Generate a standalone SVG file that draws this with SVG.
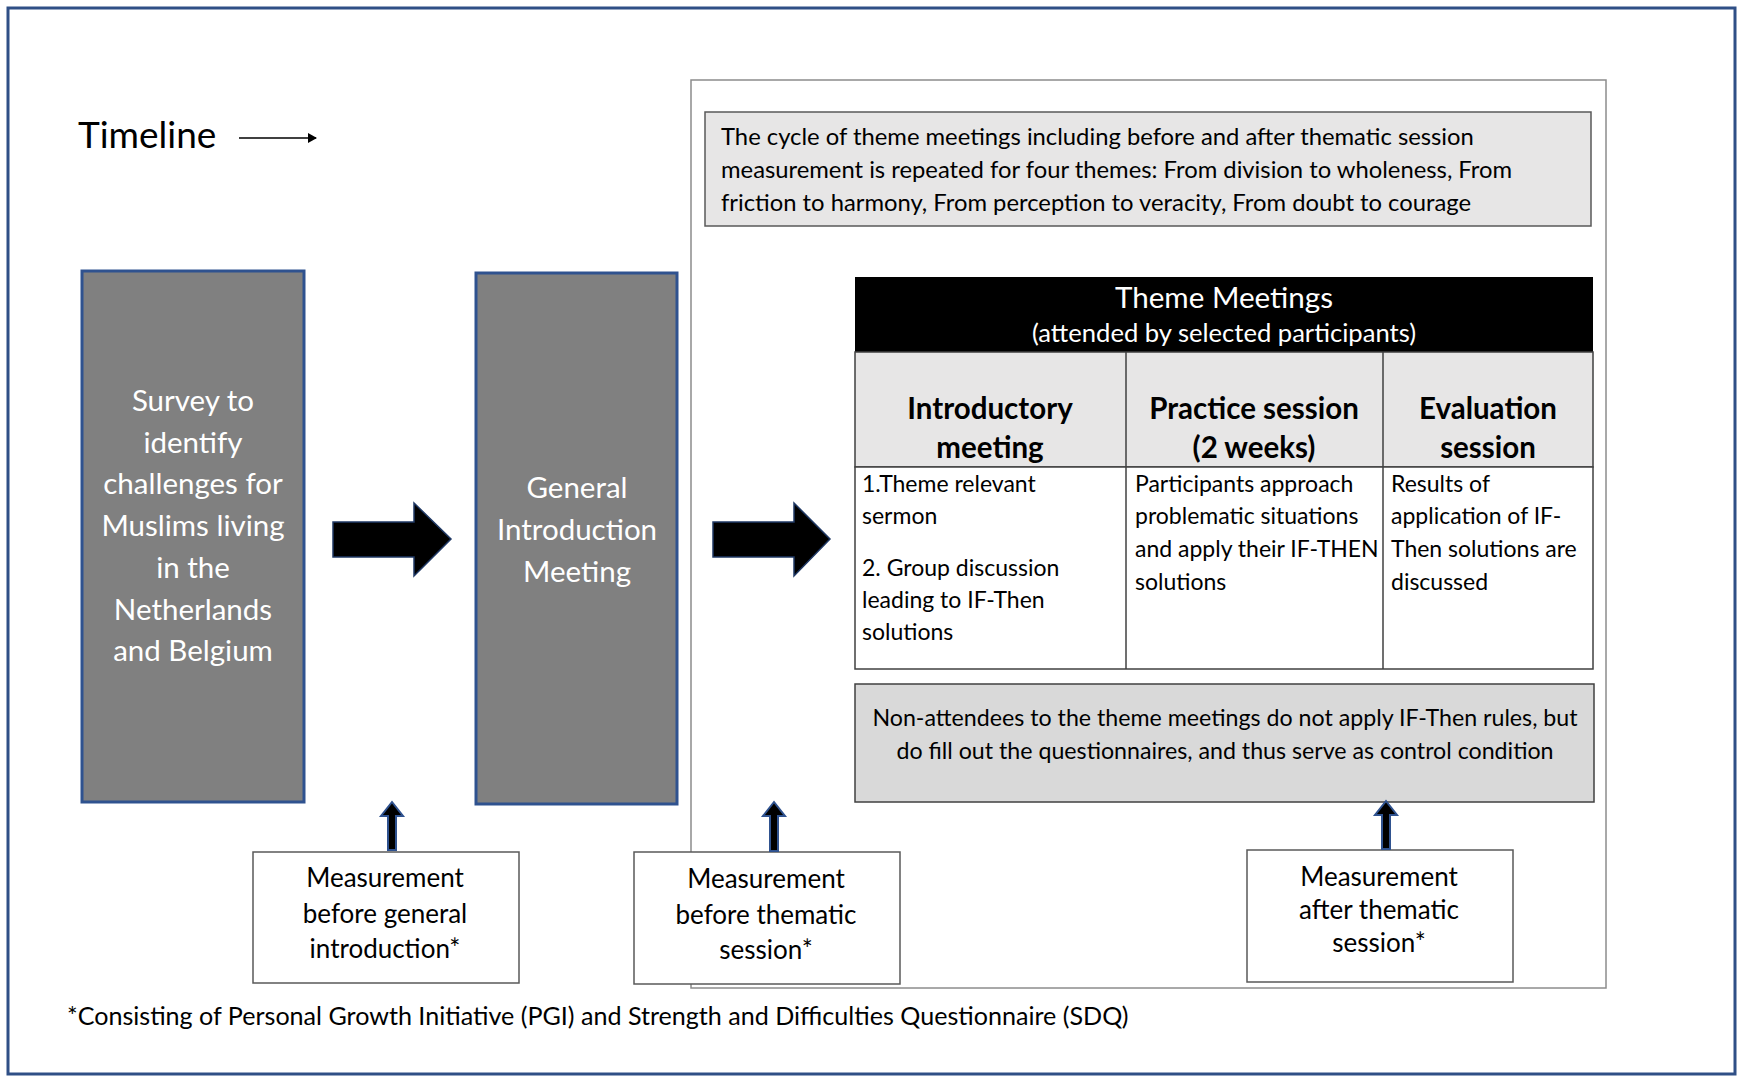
<svg xmlns="http://www.w3.org/2000/svg" width="1745" height="1082" viewBox="0 0 1745 1082">
<style>
text{font-family:Lato,"Open Sans","Liberation Sans",sans-serif;fill:#000}
.w{fill:#fff}
.c{text-anchor:middle}
.b{font-weight:bold}
.body{font-size:23px}
.big{font-size:29.5px}
.meas{font-size:26px}
.gbox{fill:#808080;stroke:#2F528F;stroke-width:3}
.mbox{fill:#fff;stroke:#595959;stroke-width:1.5}
.bigarrow{fill:#000;stroke:#1F3864;stroke-width:1.5}
.uparrow{fill:#000;stroke:#2F528F;stroke-width:2}
</style>
<defs>
<marker id="tl" markerWidth="10" markerHeight="10" refX="8" refY="5" orient="auto" markerUnits="userSpaceOnUse">
<path d="M0,0 L9,5 L0,10 Z" fill="#000"/>
</marker>
</defs>
<rect x="0" y="0" width="1745" height="1082" fill="#fff"/>
<rect x="8" y="8" width="1727" height="1066" fill="none" stroke="#2F4F86" stroke-width="3"/>

<g id="timeline">
<text x="78" y="148" style="font-size:37px">Timeline</text>
<line x1="239" y1="138" x2="316" y2="138" stroke="#000" stroke-width="1.5" marker-end="url(#tl)"/>
</g>

<g id="cycle-panel">
<rect x="691" y="80" width="915" height="908" fill="#fff" stroke="#8c8c8c" stroke-width="1.5"/>
</g>

<g id="cycle-note">
<rect x="705" y="112" width="886" height="114" fill="#E7E6E6" stroke="#595959" stroke-width="1.5"/>
<text x="721" y="145" style="font-size:23.8px">The cycle of theme meetings including before and after thematic session</text>
<text x="721" y="178" style="font-size:23.8px">measurement is repeated for four themes: From division to wholeness, From</text>
<text x="721" y="211" style="font-size:23.8px">friction to harmony, From perception to veracity, From doubt to courage</text>
</g>

<g id="survey">
<rect class="gbox" x="82" y="271" width="222" height="531"/>
<text class="w c big" x="193" y="411">Survey to</text>
<text class="w c big" x="193" y="453">identify</text>
<text class="w c big" x="193" y="494">challenges for</text>
<text class="w c big" x="193" y="536">Muslims living</text>
<text class="w c big" x="193" y="578">in the</text>
<text class="w c big" x="193" y="620">Netherlands</text>
<text class="w c big" x="193" y="661">and Belgium</text>
</g>

<g id="general-intro">
<rect class="gbox" x="476" y="273" width="201" height="531"/>
<text class="w c big" x="577" y="498">General</text>
<text class="w c big" x="577" y="540">Introduction</text>
<text class="w c big" x="577" y="582">Meeting</text>
</g>

<g id="theme-meetings">
<rect x="855" y="277" width="738" height="75" fill="#000"/>
<text class="w c" x="1224" y="308" style="font-size:29.6px">Theme Meetings</text>
<text class="w c" x="1224" y="342" style="font-size:25.6px">(attended by selected participants)</text>
<rect x="855" y="352" width="738" height="115" fill="#E7E6E6" stroke="#404040" stroke-width="1.5"/>
<rect x="855" y="467" width="738" height="202" fill="#fff" stroke="#404040" stroke-width="1.5"/>
<line x1="1126" y1="352" x2="1126" y2="669" stroke="#404040" stroke-width="1.5"/>
<line x1="1383" y1="352" x2="1383" y2="669" stroke="#404040" stroke-width="1.5"/>
<text class="c b big" x="990" y="419">Introductory</text>
<text class="c b big" x="990" y="458">meeting</text>
<text class="c b big" x="1254" y="419">Practice session</text>
<text class="c b big" x="1254" y="458">(2 weeks)</text>
<text class="c b big" x="1488" y="419">Evaluation</text>
<text class="c b big" x="1488" y="458">session</text>
<text class="body" x="862" y="492">1.Theme relevant</text>
<text class="body" x="862" y="524">sermon</text>
<text class="body" x="862" y="576">2. Group discussion</text>
<text class="body" x="862" y="608">leading to IF-Then</text>
<text class="body" x="862" y="640">solutions</text>
<text class="body" x="1135" y="492">Participants approach</text>
<text class="body" x="1135" y="524">problematic situations</text>
<text class="body" x="1135" y="557">and apply their IF-THEN</text>
<text class="body" x="1135" y="590">solutions</text>
<text class="body" x="1391" y="492">Results of</text>
<text class="body" x="1391" y="524">application of IF-</text>
<text class="body" x="1391" y="557">Then solutions are</text>
<text class="body" x="1391" y="590">discussed</text>
</g>

<g id="non-attendees">
<rect x="855" y="684" width="739" height="118" fill="#D9D9D9" stroke="#404040" stroke-width="1.5"/>
<text class="c" x="1225" y="726" style="font-size:23.2px">Non-attendees to the theme meetings do not apply IF-Then rules, but</text>
<text class="c" x="1225" y="759" style="font-size:23.2px">do fill out the questionnaires, and thus serve as control condition</text>
</g>

<g id="measure-before-general">
<rect class="mbox" x="253" y="852" width="266" height="131"/>
<text class="c meas" x="385" y="887">Measurement</text>
<text class="c meas" x="385" y="923">before general</text>
<text class="c meas" x="385" y="958">introduction*</text>
</g>

<g id="measure-before-thematic">
<rect class="mbox" x="634" y="852" width="266" height="132"/>
<text class="c meas" x="766" y="888">Measurement</text>
<text class="c meas" x="766" y="924">before thematic</text>
<text class="c meas" x="766" y="959">session*</text>
</g>

<g id="measure-after-thematic">
<rect class="mbox" x="1247" y="850" width="266" height="132"/>
<text class="c meas" x="1379" y="886">Measurement</text>
<text class="c meas" x="1379" y="919">after thematic</text>
<text class="c meas" x="1379" y="952">session*</text>
</g>

<g id="connectors">
<path class="bigarrow" d="M333,522 L414,522 L414,503 L451,539 L414,576 L414,557 L333,557 Z"/>
<path class="bigarrow" d="M713,522 L794,522 L794,503 L830,539 L794,576 L794,557 L713,557 Z"/>
<path class="uparrow" d="M388,850 L388,816 L381,816 L392,802 L403,816 L396,816 L396,850 Z"/>
<path class="uparrow" d="M770,851 L770,816 L763,816 L774,802 L785,816 L778,816 L778,851 Z"/>
<path class="uparrow" d="M1382,849 L1382,815 L1375,815 L1386,801 L1397,815 L1390,815 L1390,849 Z"/>
</g>

<g id="footnote">
<text x="67" y="1025" style="font-size:25.1px">*Consisting of Personal Growth Initiative (PGI) and Strength and Difficulties Questionnaire (SDQ)</text>
</g>
</svg>
